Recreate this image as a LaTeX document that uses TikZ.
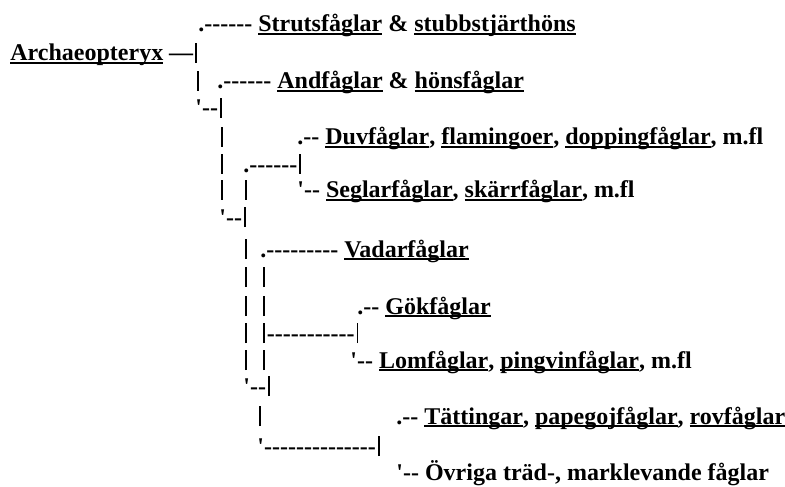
\documentclass[tikz,border=0pt]{standalone}
\usepackage{fontspec}
\setmainfont{Liberation Serif}[Ligatures=TeXOff]
\usepackage{tikz}
\usetikzlibrary{positioning}

\newcommand{\ubird}[1]{\setbox0\hbox{#1}\rlap{\rule[-1.7pt]{\wd0}{1pt}}\box0\relax}
\newcommand{\vbar}{\makebox[2.7pt]{\rule[-1pt]{0.9pt}{10pt}}}

\begin{document}
\begin{tikzpicture}[x=0.5pt,y=-0.5pt,
                    every node/.style={anchor=base west, inner sep=0pt,
                      font=\fontsize{12pt}{14pt}\selectfont\bfseries}]

  \useasboundingbox (0,0) rectangle (785,486);

  % rad 1-4
  \node at (198,32)  (r1)  {.------ \ubird{Strutsfåglar} \& \ubird{stubbstjärthöns}};
  \node at (10,61)   (r2)  {\ubird{Archaeopteryx} —\vbar};
  \node at (195,89)  (r3a) {\vbar};
  \node at (217,89)  (r3b) {.------ \ubird{Andfåglar} \& \ubird{hönsfåglar}};
  \node at (195,116) (r4)  {'--\vbar};

  % rad 5-8
  \node at (219,145) (r5a) {\vbar};
  \node at (297,145) (r5b) {.-- \ubird{Duvfåglar}, \ubird{flamingoer}, \ubird{doppingfåglar}, m.fl};
  \node at (219,172) (r6a) {\vbar};
  \node at (243,172) (r6b) {.------\vbar};
  \node at (219,198) (r7a) {\vbar};
  \node at (243,198) (r7b) {\vbar};
  \node at (297,198) (r7c) {'-- \ubird{Seglarfåglar}, \ubird{skärrfåglar}, m.fl};
  \node at (219,225) (r8)  {'--\vbar};

  % rad 9-14
  \node at (243,257) (r9a)  {\vbar};
  \node at (260,257) (r9b)  {.--------- \ubird{Vadarfåglar}};
  \node at (243,285) (r10a) {\vbar};
  \node at (261,285) (r10b) {\vbar};
  \node at (243,314) (r11a) {\vbar};
  \node at (261,314) (r11b) {\vbar};
  \node at (357,314) (r11c) {.-- \ubird{Gökfåglar}};
  \node at (243,341) (r12a) {\vbar};
  \node at (261,341) (r12b) {\vbar-----------\vbar};
  \node at (243,368) (r13a) {\vbar};
  \node at (261,368) (r13b) {\vbar};
  \node at (350,368) (r13c) {'-- \ubird{Lomfåglar}, \ubird{pingvinfåglar}, m.fl};
  \node at (243,394) (r14)  {'--\vbar};

  % rad 15-17
  \node at (257,424) (r15a) {\vbar};
  \node at (396,424) (r15b) {.-- \ubird{Tättingar}, \ubird{papegojfåglar}, \ubird{rovfåglar}};
  \node at (257,454) (r16)  {'--------------\vbar};
  \node at (396,480) (r17)  {'-- Övriga träd-, marklevande fåglar};

\end{tikzpicture}
\end{document}
